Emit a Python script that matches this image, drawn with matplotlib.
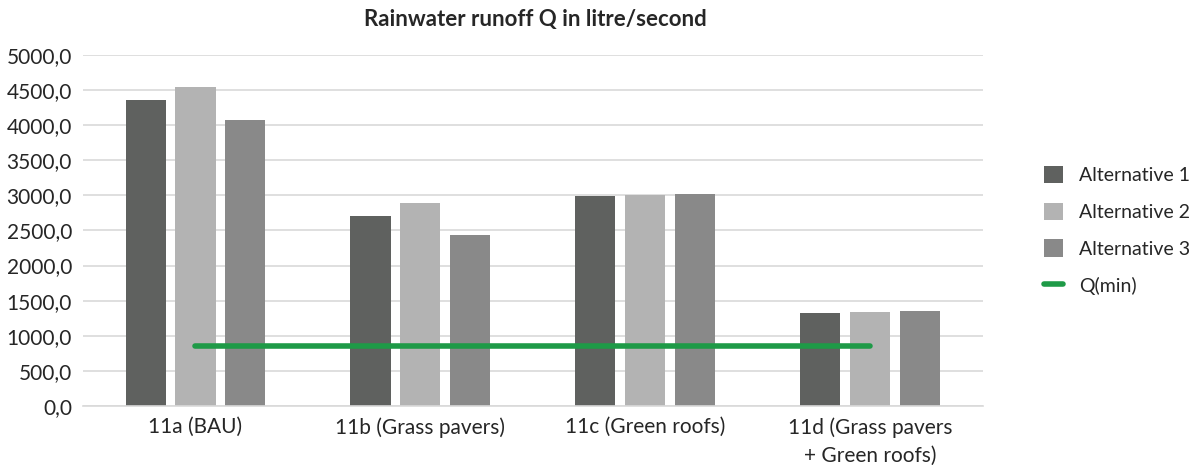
import numpy as np
import matplotlib
matplotlib.use('Agg')
import matplotlib.pyplot as plt
from matplotlib.ticker import FuncFormatter

plt.rcParams['font.family'] = ['Lato', 'DejaVu Sans']

categories = ['11a (BAU)', '11b (Grass pavers)', '11c (Green roofs)',
              '11d (Grass pavers\n+ Green roofs)']
alt1 = [4360, 2705, 2995, 1320]
alt2 = [4545, 2890, 3010, 1335]
alt3 = [4075, 2430, 3020, 1350]
q_min = [860, 860, 860, 860]
series_names = ['Alternative 1', 'Alternative 2', 'Alternative 3']
colors = ['#5f615f', '#b3b3b3', '#898989']

fig = plt.figure(figsize=(12.03, 4.65), dpi=100)
ax = fig.add_axes([0.069, 0.127, 0.748, 0.755])

x = np.arange(len(categories))
w = 0.178
step = 0.222
handles = []
for i, (vals, name, c) in enumerate(zip([alt1, alt2, alt3], series_names, colors)):
    handles.append(ax.bar(x + (i - 1) * step, vals, w, color=c, label=name, zorder=2))
line, = ax.plot(x, q_min, color='#1e9a47', linewidth=4, solid_capstyle='round',
                label='Q(min)', zorder=3)
handles.append(line)

ax.set_xlim(-0.5, len(categories) - 0.5)
ax.set_ylim(0, 5000)
ax.set_yticks(np.arange(0, 5001, 500))
ax.yaxis.set_major_formatter(FuncFormatter(lambda v, p: f'{v:.1f}'.replace('.', ',')))
ax.set_xticks(x)
ax.set_xticklabels(categories, linespacing=1.5)
ax.grid(axis='y', color='#d9d9d9', linewidth=1.2, zorder=0)
for s in ['top', 'right', 'left']:
    ax.spines[s].set_visible(False)
ax.spines['bottom'].set_color('#d9d9d9')
ax.spines['bottom'].set_linewidth(1.2)
ax.tick_params(axis='both', length=0, labelsize=15, colors='#262626', pad=8)

fig.text(0.445, 0.945, 'Rainwater runoff Q in litre/second', ha='center',
         fontsize=16, fontweight='bold', color='#262626')

fig.legend(handles=handles, labels=series_names + ['Q(min)'],
           loc='center left', bbox_to_anchor=(0.853, 0.505), frameon=False,
           fontsize=14, labelcolor='#262626', handlelength=1.0, handleheight=1.0,
           labelspacing=0.95, handletextpad=0.8)

fig.savefig('out.png', dpi=100)
